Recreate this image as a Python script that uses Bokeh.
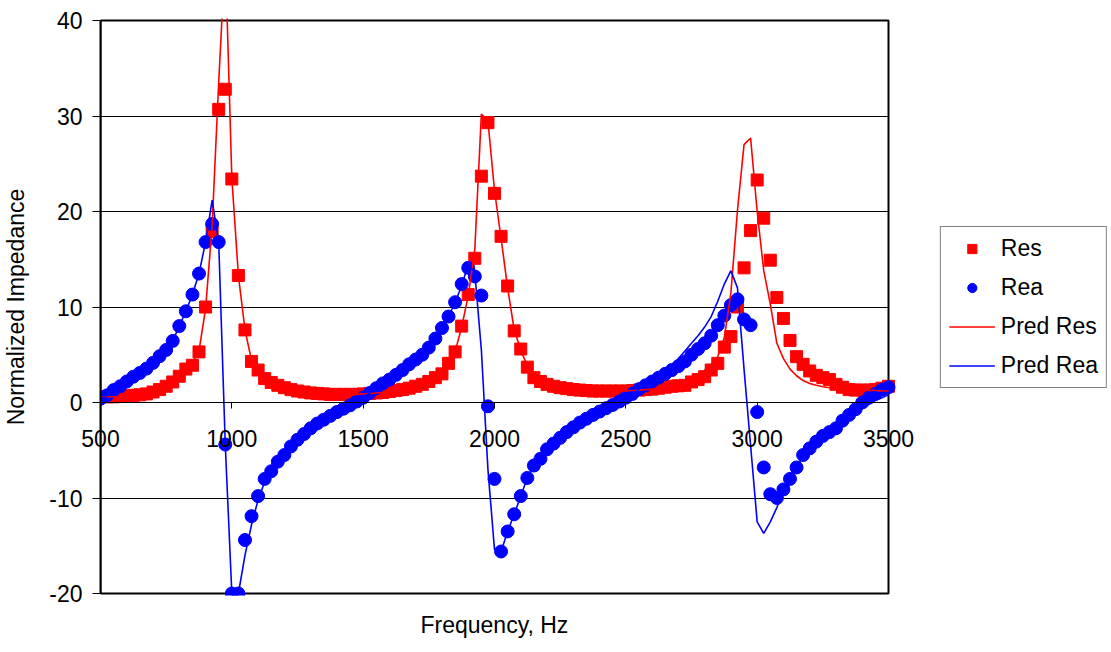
from bokeh.plotting import figure
from bokeh.models import (ColumnDataSource, FixedTicker, Legend, LegendItem, Title,
                          LinearAxis, BoxAnnotation)
from bokeh.embed import file_html
from bokeh.resources import INLINE

# ---- data ----
freq = list(range(500, 3501, 25))

res = [0.6, 0.6, 0.6, 0.65, 0.7, 0.75, 0.8, 0.9, 1.1, 1.35, 1.7, 2.15, 2.75, 3.5, 3.9, 5.3,
       10.0, 17.9, 30.7, 32.8, 23.4, 13.3, 7.6, 4.3, 3.4, 2.5, 2.1, 1.8, 1.55, 1.35, 1.2, 1.1,
       1.0, 0.95, 0.9, 0.85, 0.85, 0.85, 0.85, 0.85, 0.9, 0.95, 1.0, 1.05, 1.15, 1.25, 1.35, 1.5,
       1.7, 1.9, 2.2, 2.6, 3.0, 4.1, 5.3, 8.0, 11.3, 15.1, 23.7, 29.3, 21.9, 17.4, 12.2, 7.5,
       5.6, 3.7, 2.6, 2.2, 1.9, 1.7, 1.55, 1.45, 1.35, 1.3, 1.25, 1.2, 1.2, 1.2, 1.2, 1.2,
       1.2, 1.25, 1.3, 1.35, 1.4, 1.5, 1.6, 1.7, 1.75, 1.8, 2.15, 2.4, 2.7, 3.4, 4.1, 5.8,
       6.9, 10.0, 14.1, 18.0, 23.3, 19.3, 14.9, 11.0, 8.8, 6.5, 4.8, 4.0, 3.3, 2.85, 2.6, 2.4,
       1.9, 1.6, 1.35, 1.3, 1.3, 1.3, 1.35, 1.5, 1.7]

rea = [0.4, 0.75, 1.3, 1.7, 2.2, 2.7, 3.1, 3.55, 4.15, 4.85, 5.5, 6.45, 8.0, 9.55, 11.3, 13.5,
       16.8, 18.7, 16.8, -4.4, -20.0, -20.0, -14.4, -11.9, -9.8, -8.0, -7.2, -6.2, -5.5, -4.6, -3.9, -3.3,
       -2.7, -2.2, -1.8, -1.4, -1.0, -0.65, -0.3, 0.1, 0.5, 1.0, 1.5, 2.0, 2.4, 2.9, 3.4, 4.0,
       4.5, 5.0, 5.75, 6.7, 7.8, 9.0, 10.5, 12.4, 14.1, 13.2, 11.2, -0.4, -8.0, -15.6, -13.5, -11.7,
       -9.8, -7.9, -6.6, -5.9, -4.9, -4.3, -3.7, -3.1, -2.6, -2.1, -1.7, -1.3, -0.95, -0.6, -0.25, 0.1,
       0.5, 0.9, 1.4, 1.8, 2.2, 2.6, 3.0, 3.4, 3.8, 4.3, 5.0, 5.6, 6.2, 7.0, 8.1, 9.1,
       10.2, 10.8, 8.7, 8.1, -1.0, -6.8, -9.6, -10.0, -9.1, -8.0, -6.8, -5.5, -4.8, -4.1, -3.5, -3.1,
       -2.7, -1.9, -1.3, -0.7, 0.0, 0.5, 0.9, 1.35, 1.6]

pred_res = [0.6, 0.6, 0.6, 0.65, 0.7, 0.75, 0.8, 0.9, 1.1, 1.35, 1.7, 2.15, 2.75, 3.4, 4.1, 5.4,
            9.8, 18.5, 33.5, 47.0, 23.5, 13.3, 7.6, 4.4, 3.3, 2.5, 2.1, 1.8, 1.55, 1.35, 1.2, 1.1,
            1.0, 0.95, 0.9, 0.85, 0.85, 0.85, 0.85, 0.85, 0.9, 0.95, 1.0, 1.05, 1.15, 1.25, 1.35, 1.5,
            1.7, 1.9, 2.2, 2.6, 3.0, 4.1, 5.3, 7.9, 11.2, 16.0, 30.2, 29.5, 22.2, 17.2, 12.0, 7.6,
            5.5, 3.8, 2.7, 2.2, 1.9, 1.7, 1.55, 1.45, 1.35, 1.3, 1.25, 1.2, 1.2, 1.2, 1.2, 1.2,
            1.2, 1.25, 1.3, 1.35, 1.4, 1.5, 1.6, 1.7, 1.8, 2.0, 2.3, 2.9, 3.4, 4.0, 4.8, 6.8,
            11.5, 20.1, 27.0, 27.7, 20.0, 13.8, 10.3, 6.2, 4.6, 3.5, 2.8, 2.3, 2.0, 1.8, 1.65, 1.55,
            1.45, 1.4, 1.35, 1.3, 1.3, 1.25, 1.25, 1.2, 1.2]

pred_rea = [0.4, 0.75, 1.3, 1.7, 2.2, 2.7, 3.1, 3.55, 4.15, 4.85, 5.5, 6.45, 8.0, 9.55, 11.3, 13.5,
            16.8, 21.2, 16.8, -4.4, -20.0, -20.0, -16.0, -12.8, -10.2, -8.3, -7.0, -6.2, -5.5, -4.6, -3.9, -3.3,
            -2.7, -2.2, -1.8, -1.4, -1.0, -0.65, -0.3, 0.1, 0.5, 1.0, 1.5, 2.0, 2.4, 2.9, 3.4, 4.0,
            4.5, 5.0, 5.75, 6.7, 7.8, 9.0, 10.5, 12.2, 14.5, 13.6, 5.5, -7.0, -15.4, -15.6, -13.5, -11.7,
            -9.8, -7.9, -6.6, -5.9, -4.9, -4.3, -3.7, -3.1, -2.6, -2.1, -1.7, -1.3, -0.95, -0.6, -0.25, 0.1,
            0.5, 0.9, 1.4, 1.8, 2.2, 2.6, 3.3, 3.9, 4.6, 5.4, 6.2, 7.0, 7.9, 9.0, 10.6, 12.4,
            13.8, 12.0, 3.5, -4.5, -12.5, -13.7, -12.5, -11.0, -9.3, -8.0, -6.8, -5.6, -4.8, -4.2, -3.6, -3.1,
            -2.6, -2.1, -1.6, -1.1, -0.6, -0.2, 0.2, 0.5, 0.8]

y_ticks = [-20, -10, 0, 10, 20, 30, 40]
x_ticks = [500, 1000, 1500, 2000, 2500, 3000, 3500]

src = ColumnDataSource(dict(f=freq, res=res, rea=rea, pres=pred_res, prea=pred_rea))

FONT = "Liberation Sans"
FS = "23px"

# layout: plot area 788 x 573 px for 500..3500 Hz and -20..40; the frame continues
# to the right (so the legend can sit beside the plot area) and 2 px above/below.
W, H = 1108, 652
LEFT, PAD = 100, 2
PLOT_W, PLOT_H = 788, 573
FRAME_W = W - LEFT
X_END = 500 + 3000 * FRAME_W / PLOT_W
Y_PAD = PAD * 60 / PLOT_H

p = figure(width=W, height=H, x_range=(500, X_END), y_range=(-20 - Y_PAD, 40 + Y_PAD),
           output_backend="svg", toolbar_location=None,
           min_border_left=LEFT, min_border_right=0, min_border_top=20 - PAD,
           min_border_bottom=H - 593 - PAD,
           background_fill_color="white", border_fill_color="white")

p.outline_line_color = None

# plot-area border
p.add_layout(BoxAnnotation(left=500, right=3500, bottom=-20, top=40,
                           fill_alpha=0, fill_color=None,
                           line_color="black", line_alpha=1, line_width=2, level="underlay"))

# grid
p.xgrid.visible = False
p.ygrid.ticker = FixedTicker(ticks=y_ticks)
p.ygrid.cross_bounds = (500, 3500)
p.ygrid.grid_line_color = "black"
p.ygrid.grid_line_width = 1

# y axis
p.yaxis.ticker = FixedTicker(ticks=y_ticks)
p.yaxis.bounds = (-20, 40)
p.yaxis.major_label_overrides = {t: str(t) for t in y_ticks}
p.yaxis.axis_line_color = "black"
p.yaxis.axis_line_width = 2
p.yaxis.major_tick_out = 8
p.yaxis.major_tick_in = 0
p.yaxis.minor_tick_line_color = None
p.yaxis.major_label_standoff = 10
p.yaxis.major_label_text_font = FONT
p.yaxis.major_label_text_font_size = FS
p.yaxis.major_label_text_color = "black"
p.yaxis.axis_label = "Normalized Impedance"
p.yaxis.axis_label_text_font = FONT
p.yaxis.axis_label_text_font_size = FS
p.yaxis.axis_label_text_font_style = "normal"
p.yaxis.axis_label_text_color = "black"
p.yaxis.axis_label_standoff = 17

# x axis line and ticks drawn at y = 0
p.xaxis.fixed_location = 0
p.xaxis.bounds = (500, 3500)
p.xaxis.ticker = FixedTicker(ticks=x_ticks)
p.xaxis.axis_line_color = "black"
p.xaxis.axis_line_width = 1
p.xaxis.major_tick_out = 6
p.xaxis.major_tick_in = 0
p.xaxis.minor_tick_line_color = None
p.xaxis.major_label_text_alpha = 0
p.xaxis.major_label_text_font_size = "1px"

# x tick labels: an axis in the lower panel whose labels are lifted up to the y = 0 line
lab_axis = LinearAxis(ticker=FixedTicker(ticks=x_ticks), bounds=(500, 3500),
                      axis_line_color=None,
                      major_tick_line_color=None, minor_tick_line_color=None,
                      major_tick_out=0, major_tick_in=0,
                      major_label_standoff=-166,
                      major_label_text_font=FONT, major_label_text_font_size=FS,
                      major_label_text_color="black")
p.add_layout(lab_axis, "below")

# x axis title, centred under the plot area
p.add_layout(Title(text="Frequency, Hz", align="left", offset=320, standoff=29,
                   text_font=FONT, text_font_size=FS, text_font_style="normal",
                   text_color="black"), "below")

# series
r_res = p.scatter("f", "res", source=src, marker="square", size=12,
                  fill_color="#FF0000", line_color="#FF0000")
r_rea = p.scatter("f", "rea", source=src, marker="circle", size=13,
                  fill_color="#0000FF", line_color="#0000FF")
r_pres = p.line("f", "pres", source=src, line_color="#FF0000", line_width=1.6)
r_prea = p.line("f", "prea", source=src, line_color="#0000FF", line_width=1.6)

legend = Legend(items=[LegendItem(label="Res", renderers=[r_res]),
                       LegendItem(label="Rea", renderers=[r_rea]),
                       LegendItem(label="Pred Res", renderers=[r_pres]),
                       LegendItem(label="Pred Rea", renderers=[r_prea])],
                location="center_right",
                label_text_font=FONT, label_text_font_size=FS, label_text_color="black",
                glyph_width=46, glyph_height=23, label_height=23,
                label_standoff=6, spacing=12, padding=8, margin=1,
                border_line_color="black", border_line_width=1,
                background_fill_color="white", background_fill_alpha=1)
p.add_layout(legend)

open("out.html", "w").write(file_html(p, INLINE))
